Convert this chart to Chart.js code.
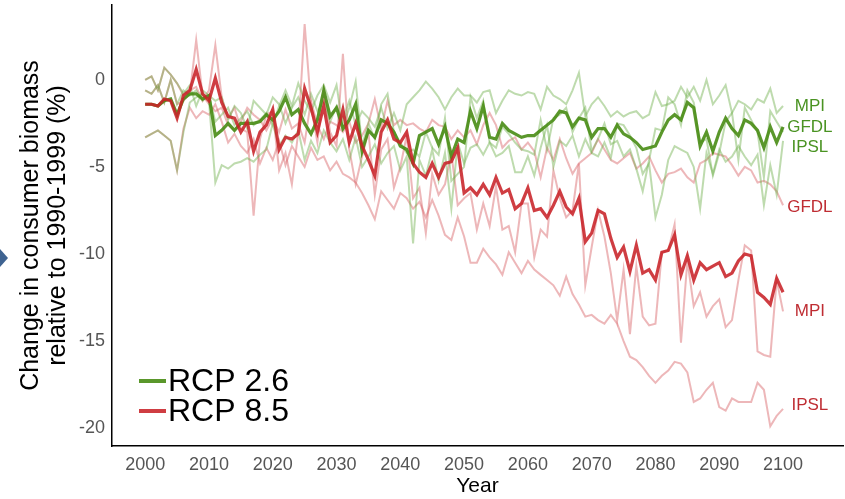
<!DOCTYPE html>
<html>
<head>
<meta charset="utf-8">
<script src="https://cdn.jsdelivr.net/npm/chart.js@4.4.1/dist/chart.umd.min.js"></script>
<style>
  html, body { margin: 0; padding: 0; background: #fff; }
  #wrap { width: 845px; height: 499px; position: relative; }
</style>
</head>
<body>
<div id="wrap"><canvas id="myChart"></canvas></div>
<script>
// years on the x axis
const years = Array.from({ length: 101 }, (_, i) => 2000 + i);
const xTicks = [2000, 2010, 2020, 2030, 2040, 2050, 2060, 2070, 2080, 2090, 2100];
const yTicks = [0, -5, -10, -15, -20];

// multi-model means
const rcp26Mean = [
  -1.4, -1.4, -1.5, -1.2, -1.1, -2.0, -1.1, -0.8, -0.8, -1.1,
  -0.9, -3.2, -2.9, -2.5, -2.9, -2.5, -2.5, -2.5, -2.4, -2.0,
  -2.3, -1.8, -1.0, -2.0, -1.7, -2.5, -3.1, -2.3, -0.6, -2.1,
  -1.6, -2.8, -2.3, -1.4, -4.1, -2.9, -3.3, -2.3, -2.5, -3.0,
  -3.8, -4.0, -4.8, -3.2, -3.0, -2.8, -3.7, -2.7, -4.4, -3.4,
  -3.6, -1.8, -2.8, -1.5, -3.3, -3.4, -2.5, -2.9, -3.1, -3.3,
  -3.2, -3.2, -2.9, -2.6, -2.3, -1.8, -1.9, -2.7, -2.2, -2.3,
  -3.3, -2.8, -2.8, -3.3, -2.6, -3.1, -3.3, -3.6, -4.0, -3.9,
  -3.8, -3.0, -2.3, -2.0, -2.3, -1.3, -1.6, -3.8, -3.0, -4.1,
  -3.0, -2.2, -2.8, -3.2, -2.3, -2.5, -2.9, -3.9, -2.7, -3.6,
  -2.7
];
const rcp85Mean = [
  -1.4, -1.4, -1.5, -1.1, -1.2, -2.2, -0.9, -0.6, 0.6, -0.8,
  -1.2, 0.1, -1.3, -2.1, -2.2, -3.0, -2.4, -4.1, -3.0, -2.6,
  -1.7, -4.0, -3.3, -3.4, -3.1, -0.5, -1.6, -3.0, -1.5, -3.6,
  -3.2, -1.7, -3.6, -2.5, -3.8, -4.6, -5.5, -3.0, -2.3, -3.4,
  -3.6, -3.0, -4.8, -5.3, -5.6, -4.8, -5.6, -4.8, -4.7, -3.9,
  -6.5, -6.2, -6.6, -6.0, -6.6, -5.6, -6.5, -6.3, -7.4, -7.1,
  -6.2, -7.5, -7.4, -7.9, -7.2, -6.4, -7.3, -7.7, -6.8, -9.3,
  -8.8, -7.5, -7.7, -9.1, -10.2, -9.6, -11.0, -9.5, -11.1, -10.9,
  -11.5, -9.9, -9.8, -8.9, -11.2, -10.1, -11.5, -10.5, -10.9, -10.7,
  -10.5, -11.3, -11.1, -10.4, -10.0, -10.1, -12.2, -12.5, -12.9, -11.4,
  -12.2
];

// individual models, RCP 2.6
const rcp26MPI = [
  0.0, 0.2, -0.6, 0.7, 0.3, -0.2, -0.8, -0.3, -1.5, -0.6,
  -0.9, -1.2, -1.0, -2.3, -1.5, -1.9, -2.8, -1.2, -1.6, -2.0,
  -1.0, -1.4, -2.5, -1.6, -1.0, -2.0, -0.8, -1.8, -1.2, -2.4,
  -1.5, -2.3, -1.2, -2.6, -1.8, -2.2, -2.7, -1.6, -2.8, -1.9,
  -2.9, -1.4, -1.0, -0.6, -0.1, -0.5, -1.0, -1.7, -1.0, -0.5,
  -0.9, -0.9, -1.3, -0.7, -0.6, -1.9, -1.2, -0.6, -0.8, -0.9,
  -0.7, -0.8, -1.7, -0.4, -0.9, -1.1, -1.4, -0.6, 0.4, -2.1,
  -1.4, -1.0, -1.5, -2.1, -1.8, -2.1, -1.9, -1.8, -2.2, -2.0,
  -0.7, -1.5, -1.4, -1.2, -0.4, -1.0, -0.4, -1.2, 0.0, -1.4,
  -0.9, -0.3, -1.9, -1.2, -1.4, -1.7, -1.1, -1.3, -0.5, -1.9,
  -1.5
];
const rcp26GFDL = [
  -0.6, -0.8, -0.3, -1.3, 0.0, -1.4, -0.6, -0.9, -0.6, -1.2,
  -0.9, -2.4, -2.0, -1.6, -2.6, -2.2, -1.8, -2.6, -2.3, -1.9,
  -2.6, -1.5, -0.6, -1.5, -0.2, -1.2, -1.8, -0.9, -0.3, -1.3,
  -0.3, -2.7, -1.6, -0.1, -3.8, -2.5, -3.4, -1.4, -0.8, -3.0,
  -3.6, -4.2, -4.0, -4.4, -3.0, -3.9, -4.3, -2.2, -5.8, -5.4,
  -5.0, -1.0, -2.2, -1.2, -3.6, -3.9, -2.7, -3.1, -3.6, -4.0,
  -4.1, -4.3, -2.3, -4.0, -2.2, -2.0, -1.6, -3.0, -2.2, -1.6,
  -4.1, -3.4, -2.5, -3.7, -3.5, -4.4, -4.0, -5.1, -6.4, -4.6,
  -2.8, -2.9, -1.0, -1.4, -2.6, -0.6, -1.3, -3.6, -3.4, -5.5,
  -4.2, -2.4, -1.9, -4.6, -1.6, -2.3, -3.0, -5.6, -1.8, -2.4,
  -3.0
];
const rcp26IPSL = [
  -3.3, -3.1, -2.9, -3.2, -3.5, -5.2, -3.0, -1.3, -1.0, -0.8,
  -1.2, -5.9, -4.9, -5.1, -4.8, -4.7, -4.5, -4.7, -4.3, -4.0,
  -2.5, -3.8, -3.2, -3.6, -2.9, -4.6, -3.5, -4.2, -2.9, -3.6,
  -4.1, -3.4, -4.6, -3.3, -5.0, -4.4, -3.7, -4.8, -4.2, -3.8,
  -5.2, -4.4, -9.4, -4.6, -5.5, -4.0, -5.8, -4.2, -7.4, -3.6,
  -4.8, -3.9, -3.7, -4.3, -3.6, -4.4, -4.2, -3.8, -5.3, -5.3,
  -4.4, -5.5, -3.9, -2.6, -5.0, -3.5, -3.8, -3.2, -4.4, -3.4,
  -4.2, -4.4, -3.6, -4.5, -2.5, -2.6, -3.2, -3.9, -5.4, -4.8,
  -7.9, -6.6, -4.6, -3.8, -4.0, -4.2, -5.0, -7.4, -4.2, -5.4,
  -4.0, -4.7, -4.4, -3.8, -4.4, -4.9, -4.3, -7.2, -4.9, -6.6,
  -3.5
];

// individual models, RCP 8.5
const rcp85MPI = [
  0.0, 0.2, -0.6, 0.7, 0.3, -0.2, -0.9, -0.6, -0.4, -1.2,
  -0.6, 2.0, -1.0, -2.2, -1.6, -2.8, -3.0, -7.8, -3.4, -2.0,
  -1.8, -5.2, -4.2, -6.0, -3.0, 3.2, -1.5, -3.6, -0.6, -3.0,
  -3.8, 1.5, -4.0, -6.0, -4.4, -3.0, -6.6, -4.0, -3.4, -6.2,
  -5.0, -3.2, -6.8, -6.2, -8.8, -5.4, -6.6, -6.0, -4.2, -7.2,
  -6.8, -6.5, -8.6, -7.1, -8.4, -6.1, -8.6, -8.4, -9.9, -7.1,
  -7.1, -10.2, -8.6, -9.0, -5.2, -6.8, -7.9, -7.5, -4.8, -11.8,
  -9.6, -7.5, -9.0, -11.1, -13.8, -10.9, -14.6, -10.7, -13.6, -14.1,
  -14.0, -9.9, -9.8, -8.3, -15.1, -10.4, -13.0, -12.2, -13.6, -13.0,
  -12.6, -14.2, -13.8, -11.5, -9.5, -9.8, -15.6, -15.8, -15.9, -11.5,
  -13.3
];
const rcp85GFDL = [
  -0.6, -0.8, -0.3, -1.3, 0.0, -1.4, -1.2, -0.8, 2.3, -0.9,
  -1.4, -1.8, -1.6, -2.6, -2.9, -2.4, -1.6, -2.0, -2.3, -2.9,
  -2.2, -3.0, -1.7, -2.8, -2.5, -3.6, -1.2, -2.6, -3.4, -2.4,
  -2.6, -3.0, -2.4, -3.6, -3.2, -2.5, -1.1, -2.8, -1.2, -2.6,
  -2.3, -2.6, -2.5, -2.8, -3.0, -2.3, -2.6, -2.7, -3.4, -2.9,
  -3.3, -2.9, -3.7, -2.6, -1.9, -2.6, -3.9, -3.5, -3.3, -4.0,
  -3.6, -4.1, -5.6, -3.9, -4.6, -3.4, -4.5, -5.4, -4.8, -4.5,
  -4.2, -3.4, -4.0, -4.6, -4.8, -4.5, -4.2, -5.1, -4.8, -4.4,
  -5.2, -5.9, -5.4, -5.3, -5.1, -5.6, -5.9, -4.8, -4.6, -4.2,
  -4.3, -4.4, -4.9, -5.5, -5.0, -5.2, -5.9, -5.8, -6.0, -6.4,
  -7.2
];
const rcp85IPSL = [
  -3.3, -3.1, -2.9, -3.2, -3.5, -5.2, -2.8, -1.6, -2.2, -1.8,
  -2.0, -1.4, -2.4, -3.6, -3.1, -3.8, -4.2, -3.4, -4.8, -3.9,
  -4.6, -3.5, -4.9, -3.8, -4.4, -5.0, -3.9, -4.6, -4.4, -5.2,
  -4.7, -5.4, -5.6, -5.9, -6.5, -7.2, -8.0, -6.4, -6.9, -7.4,
  -6.5, -6.8, -7.4, -7.0, -7.9, -6.9, -7.8, -8.9, -9.2, -7.9,
  -9.0, -10.5, -10.5, -9.7, -10.2, -10.6, -11.2, -9.9, -10.5, -11.1,
  -10.4, -10.9, -11.2, -11.5, -11.8, -12.4, -11.3, -12.3, -12.9, -13.6,
  -13.5, -13.8, -14.0, -13.5, -14.0, -15.0, -15.9, -16.1, -16.5, -17.0,
  -17.4, -17.0, -16.7, -16.2, -16.3, -16.8, -18.5, -18.3, -17.8, -17.4,
  -18.8, -19.0, -18.3, -18.5, -18.5, -18.5, -17.4, -17.8, -19.9, -19.3,
  -18.9
];

// model names written at the right end of the lines
const endLabelTexts = ['MPI', 'GFDL', 'IPSL', 'GFDL', 'MPI', 'IPSL'];
const endLabelValues = [-1.5, -2.7, -3.9, -7.3, -13.3, -18.7];
const endLabelGroups = ['rcp26', 'rcp26', 'rcp26', 'rcp85', 'rcp85', 'rcp85'];

const legendLabels = ['RCP 2.6', 'RCP 8.5'];

const colors = {
    rcp26: 'rgba(72, 140, 20, 0.9)',
    rcp85: 'rgba(200, 34, 40, 0.88)',
    rcp26Thin: 'rgba(110, 175, 75, 0.45)',
    rcp85Thin: 'rgba(215, 95, 100, 0.45)',
    rcp26Text: '#4a9322',
    rcp85Text: '#bf2d33'
};

const fontFamily = '"Liberation Sans", Arial, sans-serif';

const toPoints = (vals) => vals.map((v, i) => ({ x: years[i], y: v }));

const thin = (vals, color) => ({
    data: toPoints(vals),
    borderColor: color,
    borderWidth: 2,
    pointRadius: 0,
    tension: 0,
    order: 2
});

const overlay = {
    id: 'overlay',
    afterDatasetsDraw(chart) {
        const { ctx, scales: { x, y } } = chart;
        ctx.save();

        // model labels at line ends
        ctx.font = '17px ' + fontFamily;
        ctx.textAlign = 'center';
        ctx.textBaseline = 'middle';
        endLabelTexts.forEach((t, i) => {
            ctx.fillStyle = endLabelGroups[i] === 'rcp26' ? colors.rcp26Text : colors.rcp85Text;
            ctx.fillText(t, x.getPixelForValue(2104.2), y.getPixelForValue(endLabelValues[i]));
        });

        // legend in the lower left corner
        const legendColors = [colors.rcp26, colors.rcp85];
        ctx.font = '32px ' + fontFamily;
        ctx.textAlign = 'left';
        legendLabels.forEach((l, i) => {
            const ly = 381 + i * 30;
            ctx.strokeStyle = legendColors[i];
            ctx.lineWidth = 4;
            ctx.beginPath();
            ctx.moveTo(139, ly);
            ctx.lineTo(166, ly);
            ctx.stroke();
            ctx.fillStyle = '#000';
            ctx.fillText(l, 168, ly + 1);
        });

        // small arrow at the left edge
        ctx.fillStyle = '#3f6391';
        ctx.beginPath();
        ctx.moveTo(0, 249);
        ctx.lineTo(8, 258);
        ctx.lineTo(0, 267);
        ctx.closePath();
        ctx.fill();

        ctx.restore();
    }
};

const ctx = document.getElementById('myChart');

new Chart(ctx, {
    type: 'line',
    data: {
        datasets: [
            { data: toPoints(rcp26Mean), borderColor: colors.rcp26, borderWidth: 3.2, pointRadius: 0, tension: 0, order: 1 },
            { data: toPoints(rcp85Mean), borderColor: colors.rcp85, borderWidth: 3.2, pointRadius: 0, tension: 0, order: 0 },
            thin(rcp26MPI, colors.rcp26Thin),
            thin(rcp26GFDL, colors.rcp26Thin),
            thin(rcp26IPSL, colors.rcp26Thin),
            thin(rcp85MPI, colors.rcp85Thin),
            thin(rcp85GFDL, colors.rcp85Thin),
            thin(rcp85IPSL, colors.rcp85Thin)
        ]
    },
    options: {
        responsive: true,
        maintainAspectRatio: false,
        animation: false,
        layout: { padding: { left: 17, right: 2, top: 5, bottom: 0 } },
        plugins: {
            legend: { display: false },
            tooltip: { enabled: false }
        },
        scales: {
            x: {
                type: 'linear',
                min: 1994.8,
                max: 2109.4,
                afterBuildTicks: (scale) => {
                    scale.ticks = xTicks.map(v => ({ value: v }));
                },
                afterFit: (scale) => {
                    scale.height = 53;
                    scale.paddingLeft = 0;
                    scale.paddingRight = 0;
                },
                grid: { display: false, drawTicks: true, tickLength: 4, tickColor: '#333' },
                border: { display: true, color: '#000', width: 1.5 },
                ticks: {
                    color: '#555',
                    padding: 4,
                    maxRotation: 0,
                    font: { size: 18, family: fontFamily },
                    callback: (v) => String(v)
                },
                title: {
                    display: true,
                    text: 'Year',
                    color: '#000',
                    padding: { top: 0, bottom: 0 },
                    font: { size: 21, family: fontFamily }
                }
            },
            y: {
                min: -21.03,
                max: 4.3,
                afterBuildTicks: (scale) => {
                    scale.ticks = yTicks.map(v => ({ value: v }));
                },
                afterFit: (scale) => {
                    scale.width = 95;
                    scale.paddingTop = 0;
                    scale.paddingBottom = 0;
                },
                grid: { display: false, drawTicks: true, tickLength: 4, tickColor: '#333' },
                border: { display: true, color: '#000', width: 1.5 },
                ticks: {
                    color: '#555',
                    padding: 3,
                    font: { size: 18, family: fontFamily }
                },
                title: {
                    display: true,
                    text: ['Change in consumer biomass', 'relative to 1990-1999 (%)'],
                    color: '#000',
                    padding: { top: 0, bottom: 0 },
                    font: { size: 25, family: fontFamily, lineHeight: 1.1 }
                }
            }
        }
    },
    plugins: [overlay]
});
</script>
</body>
</html>
